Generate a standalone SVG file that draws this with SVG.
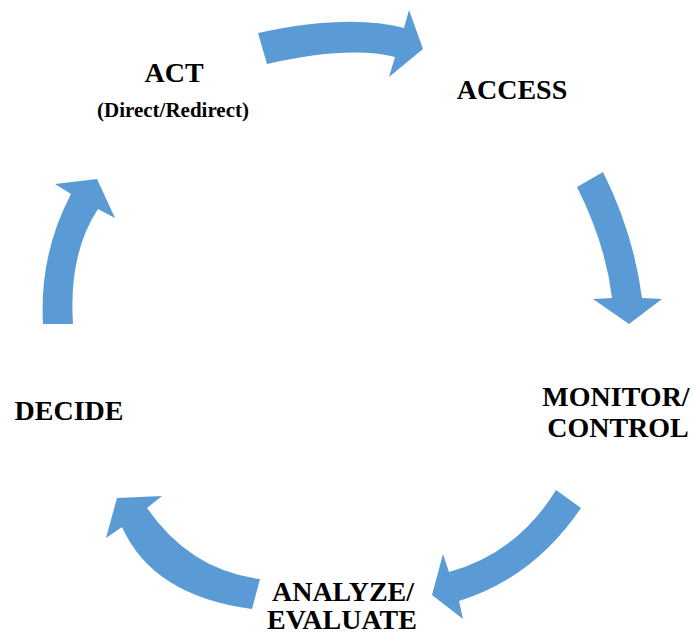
<svg xmlns="http://www.w3.org/2000/svg" width="694" height="636" viewBox="0 0 694 636">
<style>
.arrow{fill:#5B9BD5;stroke:none}
.lbl{font-family:"Liberation Serif","Times New Roman",serif;font-weight:bold;font-size:28px;fill:#000;text-anchor:middle}
.sub{font-size:21px}
</style>
<rect width="694" height="636" fill="#fff"/>
<g id="connectors">
<path class="arrow" d="M258,33 Q349,13.5 404,28 L409,10 L423,49 L389,77 L395,57 Q349,45.5 267,64 Z"/>
<path class="arrow" d="M577,187 L603,172 Q633.5,233 642,298 L662,299 L629,324 L593,299 L612,298 Q605.5,243.5 577,187 Z"/>
<path class="arrow" d="M556,490 L581,508 Q534,577.5 459,601 L463,619 L432,595 L443,554 L449,572 Q517.5,553 556,490 Z"/>
<path class="arrow" d="M260,579 Q190.5,570.5 147,508 L162,496 L117,498 L106,538 L122,527 Q153,596 252,609 Z"/>
<path class="arrow" d="M43,324 Q39,255 71,194 L55,184 L97,179 L115,218 L98,209 Q68.5,253.5 73,324 Z"/>
</g>
<g id="act">
<text class="lbl" x="174" y="82">ACT</text>
<text class="lbl sub" x="173" y="117">(Direct/Redirect)</text>
</g>
<g id="access"><text class="lbl" x="512" y="99">ACCESS</text></g>
<g id="monitor">
<text class="lbl" x="616" y="406">MONITOR/</text>
<text class="lbl" x="618" y="437">CONTROL</text>
</g>
<g id="analyze">
<text class="lbl" x="343" y="601">ANALYZE/</text>
<text class="lbl" x="342" y="629">EVALUATE</text>
</g>
<g id="decide"><text class="lbl" x="69" y="420">DECIDE</text></g>
</svg>
